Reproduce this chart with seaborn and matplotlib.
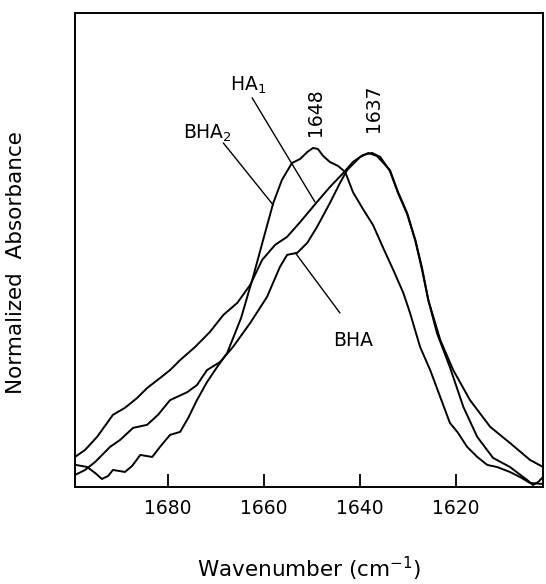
import matplotlib
matplotlib.use("Agg")
import matplotlib.pyplot as plt
import seaborn as sns
import pandas as pd

# ---- data (wavenumber cm^-1, normalized absorbance) ----
bha2_wn = [1699.2, 1696.9, 1695.2, 1693.8, 1692.5, 1691.5, 1690.2, 1689.0, 1687.5, 1685.8,
           1684.6, 1683.3, 1681.7, 1679.6, 1677.5, 1675.8, 1674.0, 1671.9, 1669.8, 1667.7,
           1664.8, 1662.3, 1660.2, 1658.1, 1656.3, 1654.2, 1652.5, 1651.0, 1649.8, 1648.8,
           1647.7, 1646.3, 1644.6, 1643.1, 1641.5, 1639.4, 1637.3, 1635.2, 1633.1, 1631.0,
           1629.6, 1627.5, 1625.4, 1623.3, 1621.3, 1619.6, 1617.7, 1615.6, 1613.5, 1611.5,
           1608.8, 1606.7, 1604.6, 1601.9]
bha2_abs = [0.066, 0.060, 0.042, 0.024, 0.033, 0.051, 0.048, 0.045, 0.063, 0.096,
            0.093, 0.090, 0.120, 0.156, 0.165, 0.207, 0.260, 0.314, 0.359, 0.401,
            0.506, 0.629, 0.740, 0.850, 0.919, 0.970, 0.982, 1.003, 1.015, 1.012,
            0.991, 0.973, 0.961, 0.943, 0.883, 0.832, 0.784, 0.716, 0.650, 0.581,
            0.521, 0.419, 0.350, 0.269, 0.192, 0.162, 0.120, 0.090, 0.066, 0.060,
            0.045, 0.030, 0.012, 0.009]

bha_wn = [1699.4, 1697.3, 1695.2, 1692.1, 1690.0, 1687.3, 1684.4, 1682.1, 1679.6, 1676.0,
          1674.0, 1671.9, 1669.2, 1666.5, 1662.9, 1659.4, 1656.7, 1655.2, 1653.1, 1651.0,
          1649.0, 1646.3, 1644.2, 1642.7, 1640.0, 1638.3, 1636.5, 1633.8, 1632.1, 1630.2,
          1628.5, 1627.1, 1625.8, 1624.0, 1621.3, 1618.5, 1615.6, 1612.3, 1608.8, 1605.2,
          1604.0, 1602.9, 1601.9]
bha_abs = [0.036, 0.051, 0.075, 0.120, 0.141, 0.177, 0.186, 0.216, 0.260, 0.284,
           0.305, 0.350, 0.374, 0.419, 0.491, 0.569, 0.659, 0.695, 0.701, 0.731,
           0.778, 0.850, 0.910, 0.949, 0.988, 1.000, 0.991, 0.949, 0.883, 0.820,
           0.740, 0.656, 0.560, 0.461, 0.359, 0.240, 0.150, 0.087, 0.060, 0.021,
           0.006, 0.015, 0.030]

ha1_wn = [1699.4, 1697.3, 1694.8, 1692.7, 1691.5, 1689.0, 1686.5, 1684.4, 1681.7, 1679.6,
          1677.5, 1674.4, 1671.3, 1668.5, 1665.6, 1662.9, 1660.4, 1657.7, 1655.2, 1652.5,
          1649.0, 1646.3, 1643.5, 1641.5, 1639.4, 1637.5, 1635.8, 1633.8, 1632.1, 1630.2,
          1628.5, 1627.1, 1625.8, 1623.3, 1620.6, 1617.1, 1612.9, 1608.8, 1604.6, 1601.9]
ha1_abs = [0.090, 0.111, 0.150, 0.192, 0.216, 0.237, 0.266, 0.296, 0.326, 0.350,
           0.380, 0.419, 0.464, 0.515, 0.551, 0.605, 0.680, 0.725, 0.749, 0.793,
           0.853, 0.898, 0.940, 0.973, 0.994, 1.000, 0.988, 0.946, 0.880, 0.817,
           0.737, 0.650, 0.560, 0.440, 0.350, 0.260, 0.180, 0.132, 0.081, 0.060]

x_ticks = [1680, 1660, 1640, 1620]
peak_labels = ["1648", "1637"]

sns.set_theme(style="white")
plt.rcParams["font.family"] = ["DejaVu Sans"]

fig = plt.figure(figsize=(5.46, 5.84), dpi=100)
ax = fig.add_axes([75 / 546, 1 - 487 / 584, 468 / 546, 474 / 584])

for wn, ab in [(bha2_wn, bha2_abs), (bha_wn, bha_abs), (ha1_wn, ha1_abs)]:
    df = pd.DataFrame({"wn": wn, "abs": ab})
    sns.lineplot(data=df, x="wn", y="abs", ax=ax, color="black", lw=1.4,
                 estimator=None, sort=True, solid_joinstyle="round")

ax.set_xlim(1699.4, 1601.9)
ax.set_ylim(0, 1.419)
ax.set_xticks(x_ticks)
ax.set_xticklabels([str(t) for t in x_ticks], fontsize=13.5, color="black")
ax.set_yticks([])
ax.tick_params(axis="x", direction="in", length=9.5, width=1.3, color="black",
               bottom=True, pad=9)
for s in ax.spines.values():
    s.set_color("black")
    s.set_linewidth(1.4)

ax.set_xlabel("Wavenumber (cm$^{-1}$)", fontsize=15.5, color="black", labelpad=26)
ax.set_ylabel("Normalized  Absorbance", fontsize=15.5, color="black")
ax.yaxis.set_label_coords(-0.105, 0.473)

# annotations
kw = dict(color="black", fontsize=13.5)
ax.text(1667.1, 1.186, "HA$_1$", ha="left", va="baseline", **kw)
ax.plot([1662.5, 1649.4], [1.165, 0.853], color="black", lw=1.0)
ax.text(1676.9, 1.042, "BHA$_2$", ha="left", va="baseline", **kw)
ax.plot([1668.5, 1658.1], [1.030, 0.844], color="black", lw=1.0)
ax.text(1645.6, 0.422, "BHA", ha="left", va="baseline", **kw)
ax.plot([1644.2, 1653.5], [0.521, 0.701], color="black", lw=1.0)
ax.text(1649.2, 1.123, peak_labels[0], rotation=90, ha="center", va="center", **kw)
ax.text(1637.3, 1.135, peak_labels[1], rotation=90, ha="center", va="center", **kw)

fig.savefig("out.png", dpi=100, facecolor="white")
